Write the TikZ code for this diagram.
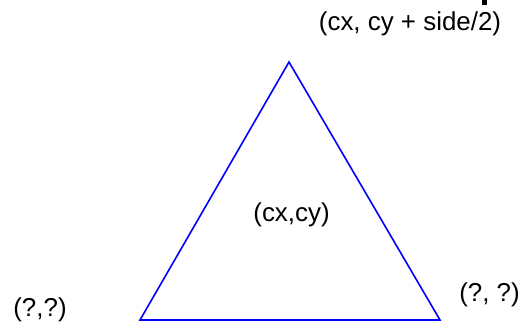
\documentclass[tikz,border=0pt]{standalone}
\usepackage{fontspec}
\setmainfont{Liberation Sans}
\begin{document}
\begin{tikzpicture}[
  x=1bp, y=-1bp,
  lbl/.style ={font=\fontsize{26}{30}\selectfont, inner sep=0pt},
  edge/.style={draw=blue, line width=1.6bp, line join=miter},
]
\useasboundingbox (0,0) rectangle (522,323);
\fill[white] (0,0) rectangle (522,323);
\coordinate (top)   at (289,62);
\coordinate (left)  at (140,320);
\coordinate (right) at (440,320);
\draw[edge] (top) -- (right) -- (left) -- cycle;
\node[lbl] (toplbl)   at (410,24)    {(cx, cy + side/2)};
\node[lbl] (centre)   at (291.5,214.5) {(cx,cy)};
\node[lbl] (leftlbl)  at (40,309.5)  {(?,?)};
\node[lbl] (rightlbl) at (489.5,295) {(?, ?)};
\fill[black] (482,0) rectangle (487,5);
\end{tikzpicture}
\end{document}
